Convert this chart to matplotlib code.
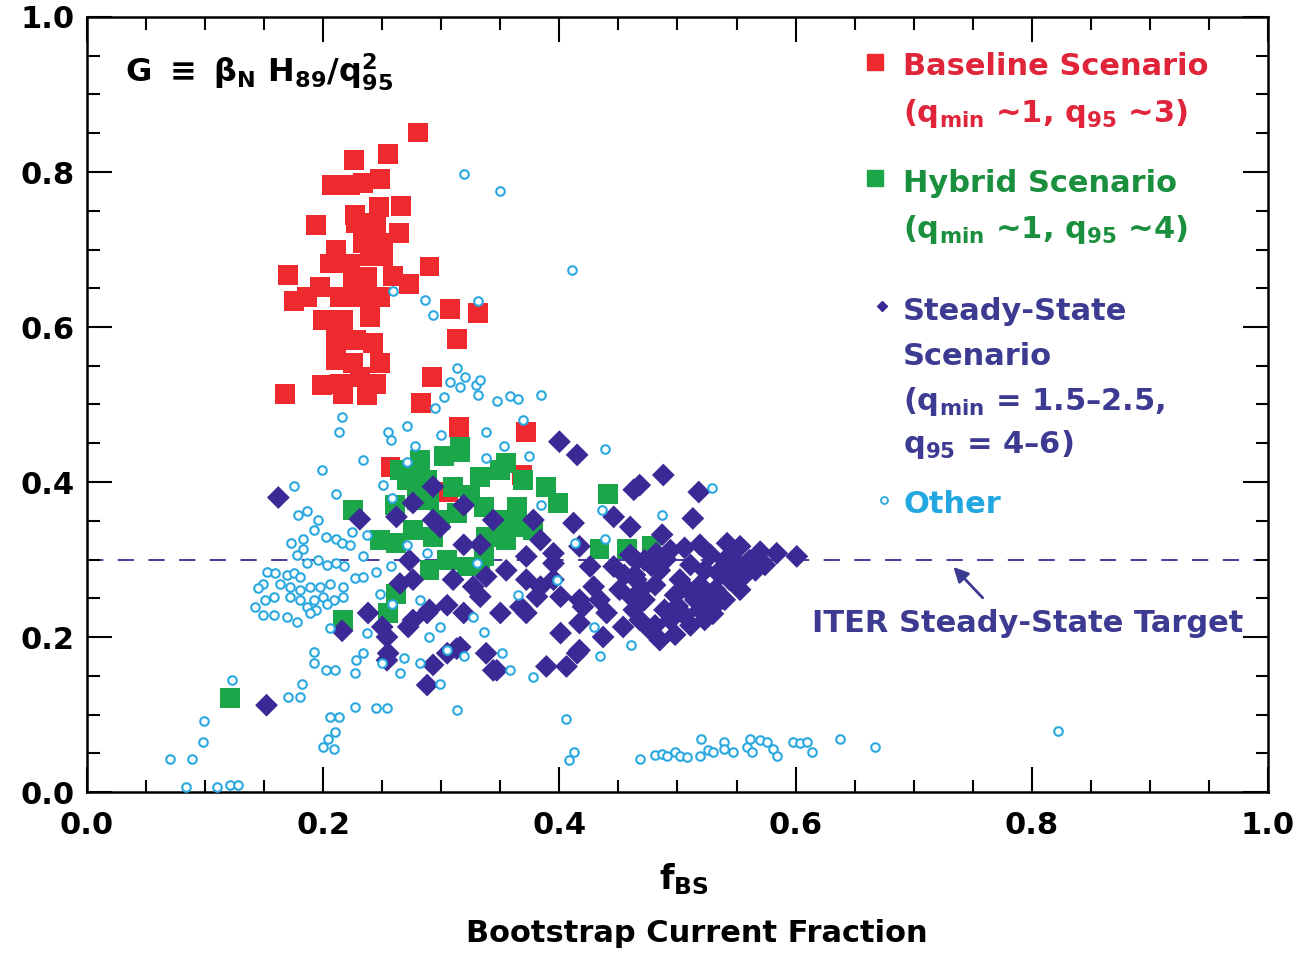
import matplotlib
matplotlib.use('Agg')
import matplotlib.pyplot as plt
from matplotlib.ticker import MultipleLocator

# ---------------- data ----------------
baseline_x = [0.280, 0.226, 0.255, 0.207, 0.223, 0.234, 0.248, 0.194, 0.227, 0.247, 0.266, 0.264,
              0.228, 0.245, 0.234, 0.251, 0.211, 0.206, 0.223, 0.240, 0.251, 0.225, 0.237, 0.259,
              0.273, 0.197, 0.214, 0.231, 0.248, 0.175, 0.186, 0.200, 0.217, 0.240, 0.211, 0.228,
              0.242, 0.211, 0.225, 0.248, 0.214, 0.231, 0.245, 0.199, 0.217, 0.237,
              0.170, 0.290, 0.168, 0.307, 0.331, 0.313, 0.292, 0.283, 0.315, 0.372, 0.257, 0.368, 0.306]
baseline_y = [0.851, 0.816, 0.823, 0.783, 0.783, 0.786, 0.791, 0.732, 0.745, 0.755, 0.756, 0.721,
              0.734, 0.734, 0.708, 0.708, 0.699, 0.682, 0.682, 0.691, 0.691, 0.665, 0.665, 0.666,
              0.656, 0.652, 0.639, 0.639, 0.639, 0.633, 0.639, 0.609, 0.609, 0.613, 0.583, 0.583,
              0.579, 0.557, 0.553, 0.553, 0.527, 0.536, 0.527, 0.525, 0.514, 0.512,
              0.667, 0.678, 0.514, 0.623, 0.618, 0.584, 0.536, 0.502, 0.471, 0.464, 0.419, 0.409, 0.387]

hybrid_x = [0.316, 0.302, 0.271, 0.288, 0.333, 0.350, 0.355, 0.369, 0.389, 0.399, 0.441, 0.225,
            0.248, 0.262, 0.276, 0.279, 0.310, 0.313, 0.336, 0.350, 0.364, 0.367, 0.293, 0.338,
            0.355, 0.290, 0.322, 0.336, 0.305, 0.434, 0.457, 0.478, 0.262, 0.217, 0.255, 0.121,
            0.378, 0.333, 0.290, 0.324, 0.299, 0.261, 0.265, 0.282, 0.316]
hybrid_y = [0.439, 0.433, 0.403, 0.403, 0.407, 0.415, 0.424, 0.403, 0.394, 0.373, 0.384, 0.364,
            0.325, 0.321, 0.338, 0.377, 0.394, 0.360, 0.368, 0.351, 0.368, 0.342, 0.329, 0.329,
            0.325, 0.286, 0.291, 0.304, 0.299, 0.314, 0.314, 0.317, 0.256, 0.222, 0.231, 0.121,
            0.338, 0.291, 0.377, 0.383, 0.351, 0.370, 0.415, 0.428, 0.445]

steady_x = [0.162, 0.231, 0.216, 0.152, 0.238, 0.250, 0.255, 0.254, 0.265, 0.276, 0.273, 0.262,
            0.276, 0.293, 0.299, 0.319, 0.319, 0.333, 0.344, 0.310, 0.327, 0.338, 0.305, 0.319,
            0.276, 0.288, 0.293, 0.305, 0.313, 0.288, 0.338, 0.344, 0.400, 0.415, 0.463, 0.446,
            0.460, 0.412, 0.378, 0.384, 0.395, 0.372, 0.355, 0.372, 0.395, 0.381, 0.401, 0.417,
            0.429, 0.446, 0.465, 0.463, 0.437, 0.417, 0.401, 0.415, 0.389, 0.406, 0.372, 0.350,
            0.333, 0.347, 0.316, 0.488, 0.468, 0.518, 0.513, 0.487, 0.601, 0.584, 0.570, 0.553,
            0.542, 0.536, 0.553, 0.434, 0.420, 0.440, 0.454, 0.477, 0.417, 0.367, 0.384, 0.395,
            0.426, 0.417, 0.465, 0.482, 0.254, 0.272, 0.290, 0.293,
            0.451, 0.464, 0.472, 0.481, 0.485, 0.489, 0.498, 0.502, 0.511, 0.515, 0.519, 0.523,
            0.528, 0.532, 0.536, 0.540, 0.544, 0.549, 0.557, 0.561, 0.468, 0.481, 0.494, 0.506,
            0.519, 0.485, 0.498, 0.511, 0.523, 0.532, 0.472, 0.460, 0.494, 0.506, 0.519, 0.553,
            0.566, 0.574, 0.540,
            0.470, 0.500, 0.525, 0.490, 0.455, 0.478, 0.508, 0.545, 0.530, 0.462]
steady_y = [0.380, 0.352, 0.208, 0.112, 0.231, 0.213, 0.179, 0.200, 0.269, 0.274, 0.299, 0.355,
            0.373, 0.394, 0.342, 0.370, 0.319, 0.319, 0.351, 0.274, 0.265, 0.278, 0.241, 0.231,
            0.222, 0.231, 0.164, 0.179, 0.185, 0.138, 0.179, 0.157, 0.452, 0.435, 0.390, 0.355,
            0.342, 0.347, 0.351, 0.325, 0.308, 0.304, 0.286, 0.274, 0.274, 0.252, 0.252, 0.248,
            0.265, 0.291, 0.274, 0.235, 0.200, 0.218, 0.205, 0.179, 0.162, 0.162, 0.231, 0.231,
            0.252, 0.157, 0.187, 0.409, 0.396, 0.387, 0.353, 0.332, 0.304, 0.308, 0.310, 0.317,
            0.321, 0.286, 0.291, 0.248, 0.239, 0.231, 0.213, 0.209, 0.183, 0.239, 0.265, 0.295,
            0.291, 0.317, 0.299, 0.308, 0.170, 0.213, 0.235, 0.351,
            0.261, 0.280, 0.248, 0.267, 0.286, 0.235, 0.254, 0.274, 0.293, 0.248, 0.267, 0.286,
            0.306, 0.261, 0.280, 0.299, 0.274, 0.293, 0.280, 0.299, 0.222, 0.215, 0.222, 0.228,
            0.235, 0.196, 0.203, 0.215, 0.222, 0.241, 0.299, 0.306, 0.312, 0.315, 0.319, 0.261,
            0.286, 0.293, 0.248,
            0.262, 0.240, 0.252, 0.300, 0.280, 0.292, 0.262, 0.305, 0.230, 0.250]

other_x = [0.319, 0.350, 0.411, 0.259, 0.286, 0.293, 0.331, 0.313, 0.320, 0.307, 0.316, 0.329,
           0.333, 0.331, 0.302, 0.295, 0.347, 0.358, 0.365, 0.384, 0.369, 0.216, 0.213, 0.255,
           0.257, 0.271, 0.300, 0.338, 0.278, 0.234, 0.199, 0.175, 0.211, 0.251, 0.271, 0.258,
           0.338, 0.353, 0.374, 0.439, 0.529, 0.487, 0.436, 0.384, 0.413, 0.439, 0.461, 0.434,
           0.429, 0.398, 0.365, 0.336, 0.358, 0.378,
           0.179, 0.186, 0.196, 0.173, 0.183, 0.183, 0.192, 0.202, 0.211, 0.216, 0.223, 0.178,
           0.186, 0.196, 0.203, 0.211, 0.218, 0.152, 0.159, 0.169, 0.175, 0.180, 0.149, 0.145,
           0.163, 0.172, 0.180, 0.189, 0.197, 0.206, 0.217, 0.151, 0.158, 0.172, 0.180, 0.192,
           0.200, 0.209, 0.217, 0.142, 0.149, 0.158, 0.169, 0.178, 0.186, 0.194, 0.203, 0.189,
           0.206, 0.192, 0.192, 0.202, 0.210, 0.182, 0.170, 0.180, 0.227, 0.206, 0.213, 0.210,
           0.204, 0.200, 0.209, 0.123, 0.099, 0.098, 0.070, 0.089, 0.084, 0.110, 0.121, 0.128,
           0.224, 0.227, 0.237, 0.234, 0.245, 0.234, 0.248, 0.257, 0.258, 0.237, 0.228, 0.234,
           0.227, 0.250, 0.265, 0.282, 0.290, 0.299, 0.305, 0.319, 0.313, 0.282, 0.299, 0.327,
           0.330, 0.288, 0.271, 0.245, 0.254, 0.268, 0.351,
           0.406, 0.412, 0.408, 0.468, 0.481, 0.487, 0.491, 0.498, 0.502, 0.508, 0.519, 0.520,
           0.526, 0.530, 0.539, 0.539, 0.547, 0.559, 0.563, 0.561, 0.570, 0.576, 0.581, 0.584,
           0.598, 0.604, 0.610, 0.614, 0.638, 0.667, 0.822]
other_y = [0.798, 0.776, 0.674, 0.646, 0.635, 0.615, 0.633, 0.547, 0.536, 0.529, 0.523, 0.525,
           0.531, 0.512, 0.510, 0.495, 0.504, 0.511, 0.507, 0.512, 0.480, 0.484, 0.465, 0.465,
           0.454, 0.472, 0.461, 0.464, 0.446, 0.428, 0.415, 0.395, 0.385, 0.396, 0.426, 0.379,
           0.431, 0.446, 0.433, 0.443, 0.392, 0.357, 0.364, 0.370, 0.321, 0.327, 0.190, 0.175,
           0.213, 0.274, 0.254, 0.207, 0.157, 0.149,
           0.357, 0.362, 0.351, 0.321, 0.327, 0.314, 0.338, 0.329, 0.327, 0.321, 0.319, 0.306,
           0.295, 0.299, 0.293, 0.295, 0.291, 0.284, 0.282, 0.280, 0.282, 0.278, 0.269, 0.263,
           0.269, 0.265, 0.261, 0.265, 0.265, 0.269, 0.265, 0.248, 0.252, 0.252, 0.248, 0.248,
           0.252, 0.248, 0.252, 0.239, 0.228, 0.228, 0.226, 0.220, 0.239, 0.235, 0.243, 0.231,
           0.211, 0.181, 0.166, 0.157, 0.157, 0.140, 0.123, 0.123, 0.110, 0.097, 0.097, 0.078,
           0.069, 0.058, 0.056, 0.145, 0.092, 0.064, 0.042, 0.042, 0.007, 0.007, 0.009, 0.009,
           0.336, 0.276, 0.332, 0.304, 0.284, 0.278, 0.256, 0.291, 0.243, 0.205, 0.170, 0.179,
           0.153, 0.166, 0.153, 0.248, 0.200, 0.213, 0.183, 0.175, 0.106, 0.166, 0.140, 0.226,
           0.295, 0.308, 0.319, 0.108, 0.108, 0.173, 0.179,
           0.094, 0.052, 0.041, 0.042, 0.048, 0.049, 0.046, 0.052, 0.046, 0.045, 0.046, 0.069,
           0.054, 0.051, 0.064, 0.055, 0.052, 0.058, 0.052, 0.068, 0.067, 0.065, 0.056, 0.046,
           0.064, 0.063, 0.065, 0.052, 0.068, 0.058, 0.079]

iter_target = 0.3
xticks = [0.0, 0.2, 0.4, 0.6, 0.8, 1.0]
yticks = [0.0, 0.2, 0.4, 0.6, 0.8, 1.0]
tick_labels = ['0.0', '0.2', '0.4', '0.6', '0.8', '1.0']

# ---------------- style ----------------
RED = '#ee2a2e'
GREEN = '#1ba64a'
NAVY = '#3b2a96'
CYAN = '#2aa8e0'
RED_T = '#e0243a'
GREEN_T = '#1a8f3e'
NAVY_T = '#3d3a92'
CYAN_T = '#22a7e0'

plt.rcParams['font.family'] = ['DejaVu Sans']
plt.rcParams['font.weight'] = 'bold'
plt.rcParams['mathtext.fontset'] = 'custom'
plt.rcParams['mathtext.rm'] = 'DejaVu Sans:bold'
plt.rcParams['mathtext.it'] = 'DejaVu Sans:bold'
plt.rcParams['mathtext.bf'] = 'DejaVu Sans:bold'
plt.rcParams['mathtext.sf'] = 'DejaVu Sans:bold'

FS = 22

fig = plt.figure(figsize=(13, 9.55), dpi=100)
ax = fig.add_axes([87 / 1300, 1 - 792 / 955, 1181 / 1300, 775 / 955])

ax.scatter(baseline_x, baseline_y, marker='s', s=205, color=RED, edgecolors='none', zorder=2)
ax.scatter(hybrid_x, hybrid_y, marker='s', s=205, color=GREEN, edgecolors='none', zorder=3)
ax.scatter(steady_x, steady_y, marker='D', s=135, color=NAVY, edgecolors='none', zorder=4)
ax.scatter(other_x, other_y, marker='o', s=38, facecolors='white', edgecolors=CYAN,
           linewidths=1.5, zorder=5, clip_on=False)

ax.axhline(iter_target, color=NAVY, lw=1.3, ls=(0, (9, 8)), zorder=1)

ax.set_xlim(0, 1)
ax.set_ylim(0, 1)
ax.set_xticks(xticks)
ax.set_xticklabels(tick_labels)
ax.set_yticks(yticks)
ax.set_yticklabels(tick_labels)
ax.xaxis.set_minor_locator(MultipleLocator(0.05))
ax.yaxis.set_minor_locator(MultipleLocator(0.05))
ax.tick_params(which='both', direction='in', top=True, right=True, width=1.5, color='black')
ax.tick_params(which='major', length=18)
ax.tick_params(which='minor', length=9)
ax.tick_params(axis='x', labelsize=FS, pad=14)
ax.tick_params(axis='y', labelsize=FS, pad=9)
for sp in ax.spines.values():
    sp.set_linewidth(1.8)

# axis labels
ax.text(0.505, -0.113, r'f$_{BS}$', transform=ax.transAxes, ha='center', va='center',
        fontsize=FS + 2, color='black')
ax.text(0.516, -0.182, 'Bootstrap Current Fraction', transform=ax.transAxes,
        ha='center', va='center', fontsize=FS, color='black')

# formula
ax.text(0.032, 0.916, r'G $\equiv$ $\beta_N$ H$_{89}$/q$_{95}^{2}$', transform=ax.transAxes,
        ha='left', va='baseline', fontsize=FS + 1, color='black')

# legend (manual)
tx = 0.691
lines = [
    ('Baseline Scenario', 0.925, RED_T),
    (r'(q$_{min}$ ~1, q$_{95}$ ~3)', 0.865, RED_T),
    ('Hybrid Scenario', 0.774, GREEN_T),
    (r'(q$_{min}$ ~1, q$_{95}$ ~4)', 0.715, GREEN_T),
    ('Steady-State', 0.609, NAVY_T),
    ('Scenario', 0.551, NAVY_T),
    (r'(q$_{min}$ = 1.5–2.5,', 0.493, NAVY_T),
    (r'q$_{95}$ = 4–6)', 0.437, NAVY_T),
    ('Other', 0.360, CYAN_T),
]
for txt, yy, col in lines:
    ax.text(tx, yy, txt, transform=ax.transAxes, ha='left', va='baseline',
            fontsize=FS, color=col, zorder=6)

ax.plot([0.667], [0.942], marker='s', ms=12, color=RED, transform=ax.transAxes, clip_on=False)
ax.plot([0.667], [0.792], marker='s', ms=11, color=GREEN, transform=ax.transAxes, clip_on=False)
ax.plot([0.673], [0.627], marker='D', ms=5, color=NAVY, transform=ax.transAxes, clip_on=False)
ax.plot([0.675], [0.377], marker='o', ms=5, mfc='white', mec=CYAN, mew=1.3,
        transform=ax.transAxes, clip_on=False)

# ITER target annotation
ax.text(0.614, 0.206, 'ITER Steady-State Target', transform=ax.transAxes, ha='left',
        va='baseline', fontsize=FS, color=NAVY_T)
ax.annotate('', xy=(0.732, 0.293), xycoords='axes fraction', xytext=(0.760, 0.248),
            textcoords='axes fraction',
            arrowprops=dict(arrowstyle='-|>', color=NAVY_T, lw=2, mutation_scale=22))

fig.savefig('out.png', dpi=100)
